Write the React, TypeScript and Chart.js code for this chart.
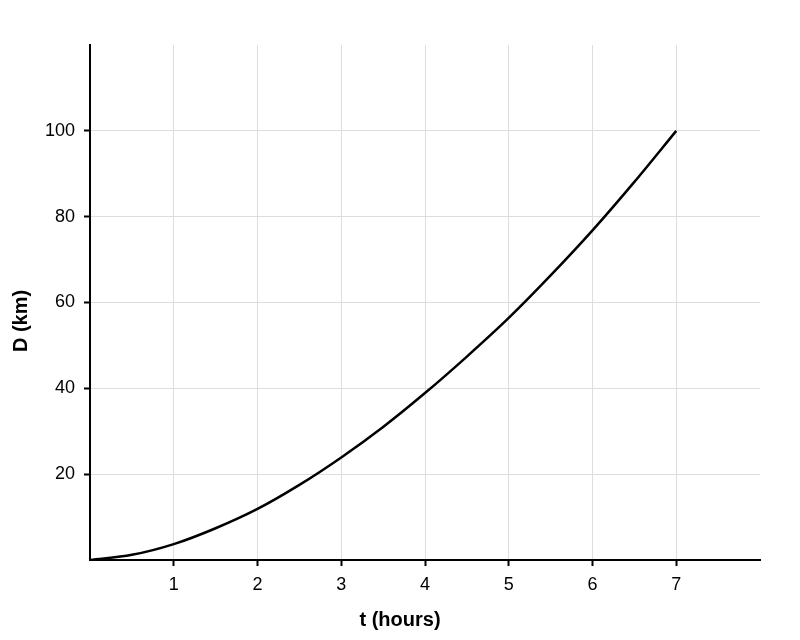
import React, { useEffect, useRef } from 'react';
import Chart from 'chart.js/auto';

// valores
const tiempos = [0, 0.5, 1, 1.5, 2, 2.5, 3, 3.5, 4, 4.5, 5, 5.5, 6, 6.5, 7];
const distancias = [0, 1.2, 3.7, 7.4, 11.9, 17.5, 23.9, 31, 38.9, 47.4, 56.4, 66.3, 76.8, 88.1, 100];
const ticksX = [1, 2, 3, 4, 5, 6, 7];
const ticksY = [20, 40, 60, 80, 100];
const tituloX = 't (hours)';
const tituloY = 'D (km)';

const FONT = "'Liberation Sans', Arial, sans-serif";

// títulos de ejes centrados en el lienzo, no en el área del gráfico
const titulosPlugin = {
  id: 'titulos',
  afterDraw(chart: Chart) {
    const ctx = chart.ctx;
    ctx.save();
    ctx.fillStyle = '#000';
    ctx.font = `bold 20px ${FONT}`;
    ctx.textAlign = 'center';
    ctx.textBaseline = 'alphabetic';
    ctx.fillText(tituloX, 400, 626);
    ctx.translate(27, 321);
    ctx.rotate(-Math.PI / 2);
    ctx.fillText(tituloY, 0, 0);
    ctx.restore();
  }
};

export default function App() {
  const canvasRef = useRef<HTMLCanvasElement | null>(null);
  const chartRef = useRef<Chart | null>(null);

  useEffect(() => {
    document.body.style.margin = '0';
    if (!canvasRef.current) return;
    chartRef.current?.destroy();

    chartRef.current = new Chart(canvasRef.current, {
      type: 'line',
      data: {
        datasets: [
          {
            data: tiempos.map((t, i) => ({ x: t, y: distancias[i] })),
            borderColor: '#000',
            borderWidth: 2.5,
            pointRadius: 0,
            fill: false,
            cubicInterpolationMode: 'monotone'
          }
        ]
      },
      options: {
        animation: false,
        responsive: false,
        layout: { padding: { top: 45, right: 40, left: 0, bottom: 0 } },
        plugins: { legend: { display: false }, tooltip: { enabled: false } },
        scales: {
          x: {
            type: 'linear',
            min: 0,
            max: 8,
            afterBuildTicks: (s: any) => {
              s.ticks = ticksX.map((v) => ({ value: v }));
            },
            afterFit: (s: any) => {
              s.height = 80;
            },
            grid: { color: '#dddddd', tickColor: '#000', tickLength: 6, tickWidth: 2, lineWidth: 1 },
            border: { color: '#000', width: 2 },
            ticks: { color: '#000', font: { family: FONT, size: 18 }, padding: 8 }
          },
          y: {
            type: 'linear',
            min: 0,
            max: 120,
            afterBuildTicks: (s: any) => {
              s.ticks = ticksY.map((v) => ({ value: v }));
            },
            afterFit: (s: any) => {
              s.width = 90;
            },
            grid: { color: '#dddddd', tickColor: '#000', tickLength: 6, tickWidth: 2, lineWidth: 1 },
            border: { color: '#000', width: 2 },
            ticks: { color: '#000', font: { family: FONT, size: 18 }, padding: 9 }
          }
        }
      },
      plugins: [titulosPlugin]
    });

    return () => {
      chartRef.current?.destroy();
      chartRef.current = null;
    };
  }, []);

  return (
    <div style={{ width: 800, height: 640, background: '#fff' }}>
      <canvas ref={canvasRef} width={800} height={640}></canvas>
    </div>
  );
}
